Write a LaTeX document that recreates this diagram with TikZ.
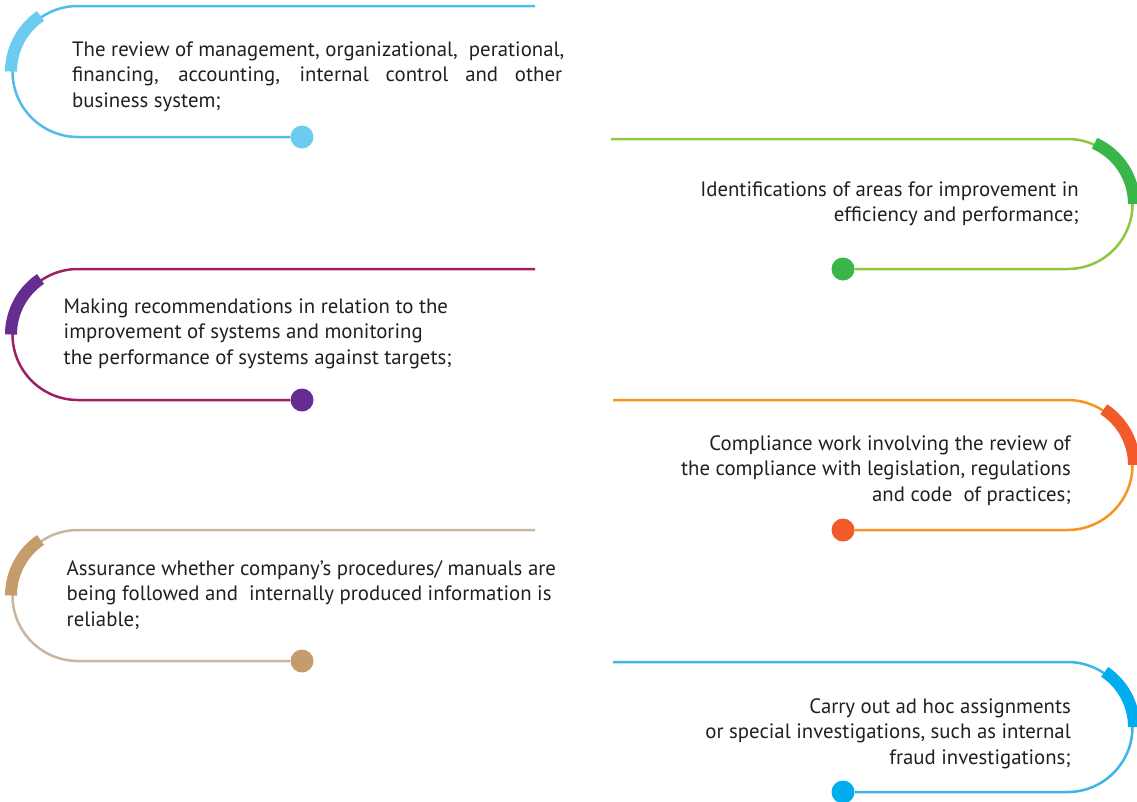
\documentclass[tikz,border=0pt]{standalone}
\usepackage{fontspec}
\setmainfont{PT Sans}
\definecolor{txt}{HTML}{231F20}
\definecolor{lA}{HTML}{4FBDE9}\definecolor{aA}{HTML}{6CCCF0}
\definecolor{lB}{HTML}{8DC63F}\definecolor{aB}{HTML}{39B54A}
\definecolor{lC}{HTML}{9E1F63}\definecolor{aC}{HTML}{662D91}
\definecolor{lD}{HTML}{F7941D}\definecolor{aD}{HTML}{F15A29}
\definecolor{lE}{HTML}{C8B69E}\definecolor{aE}{HTML}{C69C6D}
\definecolor{lF}{HTML}{3DB5E6}\definecolor{aF}{HTML}{00AEEF}
\tikzset{
  thinline/.style={line width=2.5pt},
  accent/.style={line width=12pt},
  dotnode/.style={circle,inner sep=0pt,minimum size=23pt},
  label/.style={inner sep=0pt,text=txt,font=\fontsize{20.8}{25.6}\selectfont}
}
\begin{document}
\begin{tikzpicture}[x=1pt,y=-1pt]
\useasboundingbox (0,0) rectangle (1137,801);
% ---- 1 (left, light blue)
\coordinate (cA) at (78,71.5);
\coordinate (sA) at (535,6);
\node[dotnode,fill=aA] (dA) at (302,137) {};
\draw[thinline,lA] (sA) -- (78,6) arc[start angle=270,end angle=90,radius=65.5] -- (dA);
\draw[accent,aA] ([shift={(-124:67)}]cA) arc[start angle=-124,end angle=-180,radius=67];
\node[label,anchor=base west] (tA) at (72,56) {\parbox[t]{540pt}{\raggedright
The review of management, organizational,\ \ perational,\\
\makebox[490pt][s]{financing, accounting, internal control and other}\\
business system;}};
% ---- 2 (right, green)
\coordinate (cB) at (1067.5,204);
\coordinate (sB) at (611,139);
\node[dotnode,fill=aB] (dB) at (843,269) {};
\draw[thinline,lB] (sB) -- (1067.5,139) arc[start angle=270,end angle=450,radius=65] -- (dB);
\draw[accent,aB] ([shift={(-66:66.5)}]cB) arc[start angle=-66,end angle=0,radius=66.5];
\node[label,anchor=base east] (tB) at (1079,196) {\parbox[t]{500pt}{\raggedleft
Identifications of areas for improvement in\\
efficiency and performance;}};
% ---- 3 (left, purple)
\coordinate (cC) at (78,334.5);
\coordinate (sC) at (535,269);
\node[dotnode,fill=aC] (dC) at (302,400) {};
\draw[thinline,lC] (sC) -- (78,269) arc[start angle=270,end angle=90,radius=65.5] -- (dC);
\draw[accent,aC] ([shift={(-124:67)}]cC) arc[start angle=-124,end angle=-180,radius=67];
\node[label,anchor=base west] (tC) at (63.5,313) {\parbox[t]{520pt}{\raggedright
Making recommendations in relation to the\\
improvement of systems and monitoring\\
the performance of systems against targets;}};
% ---- 4 (right, orange)
\coordinate (cD) at (1067.5,465);
\coordinate (sD) at (613,400);
\node[dotnode,fill=aD] (dD) at (843,530) {};
\draw[thinline,lD] (sD) -- (1067.5,400) arc[start angle=270,end angle=450,radius=65] -- (dD);
\draw[accent,aD] ([shift={(-57:66.5)}]cD) arc[start angle=-57,end angle=0,radius=66.5];
\node[label,anchor=base east] (tD) at (1071,450) {\parbox[t]{500pt}{\raggedleft
Compliance work involving the review of\\
the compliance with legislation, regulations\\
and code\ \ of practices;}};
% ---- 5 (left, tan)
\coordinate (cE) at (78,595.5);
\coordinate (sE) at (535,530);
\node[dotnode,fill=aE] (dE) at (302,661) {};
\draw[thinline,lE] (sE) -- (78,530) arc[start angle=270,end angle=90,radius=65.5] -- (dE);
\draw[accent,aE] ([shift={(-124:67)}]cE) arc[start angle=-124,end angle=-180,radius=67];
\node[label,anchor=base west] (tE) at (66.5,575) {\parbox[t]{520pt}{\raggedright
Assurance whether company’s procedures/ manuals are\\
being followed and\ \ internally produced information is\\
reliable;}};
% ---- 6 (right, blue)
\coordinate (cF) at (1067.5,727);
\coordinate (sF) at (613,662);
\node[dotnode,fill=aF] (dF) at (843,792) {};
\draw[thinline,lF] (sF) -- (1067.5,662) arc[start angle=270,end angle=450,radius=65] -- (dF);
\draw[accent,aF] ([shift={(-56:66.5)}]cF) arc[start angle=-56,end angle=0,radius=66.5];
\node[label,anchor=base east] (tF) at (1071,713) {\parbox[t]{500pt}{\raggedleft
Carry out ad hoc assignments\\
or special investigations, such as internal\\
fraud investigations;}};
\end{tikzpicture}
\end{document}
